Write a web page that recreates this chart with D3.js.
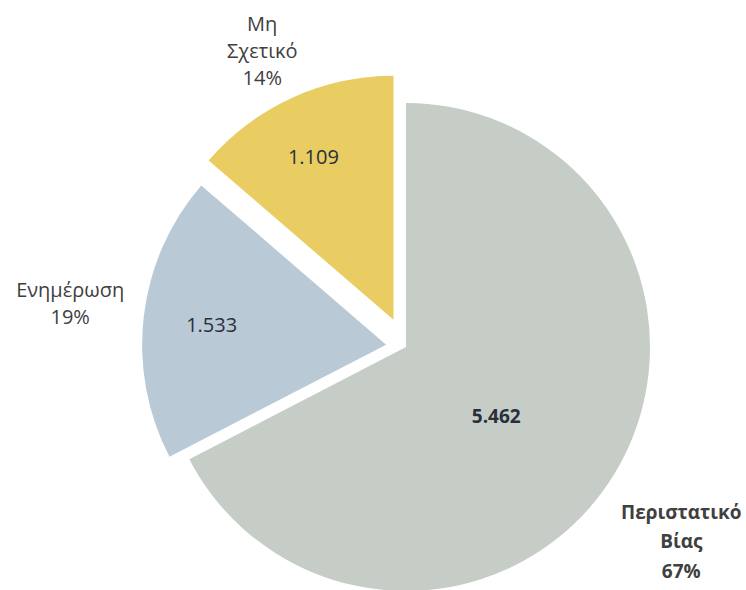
<!DOCTYPE html>
<html>
<head>
<meta charset="utf-8">
<script src="https://cdn.jsdelivr.net/npm/d3@7"></script>
<style>
  html, body { margin: 0; padding: 0; background: #ffffff; }
  svg { display: block; }
</style>
</head>
<body>
<svg id="chart" width="746" height="590"></svg>
<script>
// ---- data ----
const categories = ["Περιστατικό Βίας", "Ενημέρωση", "Μη Σχετικό"];
const values = [5462, 1533, 1109];
const valueLabels = ["5.462", "1.533", "1.109"];
const percentLabels = ["67%", "19%", "14%"];
const nameLines = [["Περιστατικό", "Βίας"], ["Ενημέρωση"], ["Μη", "Σχετικό"]];

// ---- styles ----
const colors = ["#c6ccc6", "#b9cad6", "#e9cd62"];
const explode = [0, 20, 30];
const boldSlice = [true, false, false];
const innerLabelFactor = [0.465, 0.72, 0.745];
const innerAngleShift = [6, 0, -1.5];      // degrees
const outerLabelFactor = [1.381, 1.306, 1.226];
const outerAngleShift = [3.9, 0.8, -1.4];  // degrees
const lineHeights = [29.5, 27, 27];
const labelSize = [19, 20, 20];
const valueSize = [19, 20, 20];

const W = 746, H = 590;
const cx = 406, cy = 347, R = 244;
const fontFamily = "'Open Sans', 'Noto Sans', sans-serif";
const rad = Math.PI / 180;

const svg = d3.select("#chart");
const g = svg.append("g").attr("transform", `translate(${cx},${cy})`);

const pie = d3.pie().sort(null).value(d => d)(values);
const arc = d3.arc().innerRadius(0).outerRadius(R);

const data = pie.map((p, i) => ({
  p, i,
  mid: (p.startAngle + p.endAngle) / 2
}));

const slices = g.selectAll("g.slice").data(data).enter().append("g")
  .attr("class", "slice")
  .attr("transform", d => {
    const dx = Math.sin(d.mid) * explode[d.i];
    const dy = -Math.cos(d.mid) * explode[d.i];
    return `translate(${dx},${dy})`;
  });

slices.append("path")
  .attr("d", d => arc(d.p))
  .attr("fill", d => colors[d.i]);

// inner value labels
slices.append("text")
  .attr("x", d => Math.sin(d.mid + innerAngleShift[d.i] * rad) * R * innerLabelFactor[d.i])
  .attr("y", d => -Math.cos(d.mid + innerAngleShift[d.i] * rad) * R * innerLabelFactor[d.i])
  .attr("text-anchor", "middle")
  .attr("dominant-baseline", "central")
  .attr("font-family", fontFamily)
  .attr("font-size", d => valueSize[d.i])
  .attr("font-weight", d => boldSlice[d.i] ? "bold" : "normal")
  .attr("fill", "#28303c")
  .text(d => valueLabels[d.i]);

// outer category labels
slices.each(function(d) {
  const lines = nameLines[d.i].concat([percentLabels[d.i]]);
  const r = R * outerLabelFactor[d.i];
  const a = d.mid + outerAngleShift[d.i] * rad;
  let x = Math.sin(a) * r;
  const y = -Math.cos(a) * r;
  const lh = lineHeights[d.i];
  const t = d3.select(this).append("text")
    .attr("text-anchor", "middle")
    .attr("font-family", fontFamily)
    .attr("font-size", labelSize[d.i])
    .attr("font-weight", boldSlice[d.i] ? "bold" : "normal")
    .attr("fill", "#404040");
  const y0 = y - (lines.length - 1) * lh / 2;
  const spans = lines.map((ln, k) => t.append("tspan")
      .attr("x", x)
      .attr("y", y0 + k * lh)
      .attr("dominant-baseline", "central")
      .text(ln));
  // keep the label inside the canvas
  const bb = this.getBBox ? t.node().getBBox() : null;
  if (bb) {
    const tr = d3.select(this).attr("transform").match(/-?[\d.]+/g).map(Number);
    const right = cx + tr[0] + bb.x + bb.width;
    const left = cx + tr[0] + bb.x;
    let shift = 0;
    if (right > W - 2) shift = (W - 2) - right;
    if (left < 2) shift = 2 - left;
    if (shift) spans.forEach(s => s.attr("x", x + shift));
  }
});
</script>
</body>
</html>
